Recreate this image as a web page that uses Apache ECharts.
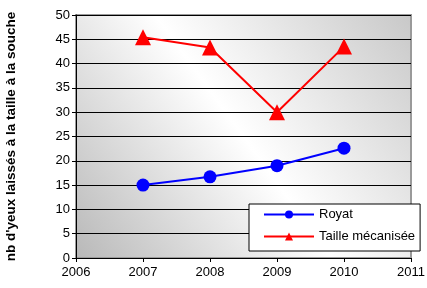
<!DOCTYPE html>
<html>
<head>
<meta charset="utf-8">
<script src="https://cdn.jsdelivr.net/npm/echarts@6/dist/echarts.min.js"></script>
<style>
html,body{margin:0;padding:0;background:#fff;}
#chart{width:427px;height:288px;}
</style>
</head>
<body>
<div id="chart"></div>
<script>
var years = [2007, 2008, 2009, 2010];
var royat = [15.0, 16.7, 19.0, 22.6];
var mecanisee = [45.4, 43.3, 30.0, 43.5];
var seriesNames = ["Royat", "Taille mécanisée"];
var yTitle = "nb d'yeux laissés à la taille à la souche";

function pairs(xs, ys){
	var out = [];
	for (var i = 0; i < xs.length; i++) out.push([xs[i], ys[i]]);
	return out;
}

var chart = echarts.init(document.getElementById("chart"));
var font = "Liberation Sans, Arial, sans-serif";

var option = {
	animation: false,
	grid: {left: 76, right: 16, top: 15, bottom: 30, show: true,
		outerBoundsMode: "none", containLabel: false,
		borderColor: "#9a9a9a", borderWidth: 2,
		backgroundColor: new echarts.graphic.LinearGradient(0, 1, 1, 0, [
			{offset: 0, color: "#b8b8b8"},
			{offset: 0.5, color: "#ffffff"},
			{offset: 1, color: "#c8c8c8"}
		])},
	xAxis: {type: "value", min: 2006, max: 2011, interval: 1,
		axisLine: {onZero: false, lineStyle: {color: "#000", width: 1}},
		axisTick: {show: true, length: 4, inside: false, lineStyle: {color: "#000"}},
		splitLine: {show: false},
		axisLabel: {color: "#000", fontFamily: font, fontSize: 13, margin: 8,
			formatter: function(v){ return String(v); }}},
	yAxis: {type: "value", min: 0, max: 50, interval: 5,
		name: yTitle, nameLocation: "middle", nameGap: 58, nameRotate: 90,
		nameTextStyle: {color: "#000", fontFamily: font, fontSize: 13.5, fontWeight: "bold"},
		axisLine: {show: true, lineStyle: {color: "#000", width: 1}},
		axisTick: {show: true, length: 4, lineStyle: {color: "#000"}},
		splitLine: {show: true, lineStyle: {color: "#000", width: 1}},
		axisLabel: {color: "#000", fontFamily: font, fontSize: 13, margin: 6}},
	legend: {left: 249, top: 204, orient: "vertical",
		backgroundColor: "#fff", borderColor: "#000", borderWidth: 1, borderRadius: 0,
		padding: [4, 5, 8, 14], itemGap: 9, itemWidth: 50, itemHeight: 10,
		textStyle: {color: "#000", fontFamily: font, fontSize: 13},
		data: seriesNames},
	series: [
		{name: seriesNames[0], type: "line", data: pairs(years, royat),
			symbol: "circle", symbolSize: 13,
			lineStyle: {color: "#0000ff", width: 2},
			itemStyle: {color: "#0000ff"}},
		{name: seriesNames[1], type: "line", data: pairs(years, mecanisee),
			symbol: "triangle", symbolSize: 16,
			lineStyle: {color: "#ff0000", width: 2},
			itemStyle: {color: "#ff0000"}}
	]
};
chart.setOption(option);
</script>
</body>
</html>
